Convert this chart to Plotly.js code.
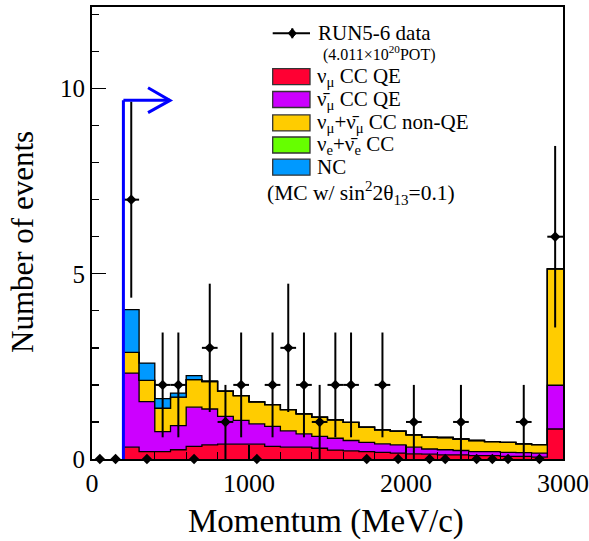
<!DOCTYPE html>
<html>
<head>
<meta charset="utf-8">
<script src="https://cdn.plot.ly/plotly-3.0.1.min.js"></script>
<style>
  html, body { margin: 0; padding: 0; background: #ffffff; }
  #plot { width: 589px; height: 541px; }
</style>
</head>
<body>
<div id="plot"></div>
<script>
// ---- Observed events (100 MeV/c bins, centres) ----
const dataMomentum = [50, 150, 250, 350, 450, 550, 650, 750, 850, 950,
                      1050, 1150, 1250, 1350, 1450, 1550, 1650, 1750, 1850, 1950,
                      2050, 2150, 2250, 2350, 2450, 2550, 2650, 2750, 2850, 2950];
const dataCounts = [0, 0, 7, 0, 2, 2, 0, 3, 1, 2,
                    0, 2, 3, 2, 1, 2, 2, 0, 2, 0,
                    1, 0, 0, 1, 0, 0, 0, 1, 0, 6];
const dataHalfWidth = 50;

// ---- MC expectation, low edges of 100 MeV/c bins above the 200 MeV/c cut ----
const mcLowEdges = [200, 300, 400, 500, 600, 700, 800, 900, 1000, 1100,
                    1200, 1300, 1400, 1500, 1600, 1700, 1800, 1900, 2000, 2100,
                    2200, 2300, 2400, 2500, 2600, 2700, 2800, 2900];
const mcUpperEdge = 3000;

const numuCCQE = [0.32, 0.20, 0.20, 0.25, 0.34, 0.38, 0.40, 0.40, 0.40, 0.34,
                  0.32, 0.32, 0.29, 0.24, 0.22, 0.20, 0.18, 0.16, 0.14, 0.13,
                  0.11, 0.11, 0.09, 0.09, 0.07, 0.07, 0.05, 0.81];
const numubarCCQE = [2.00, 1.35, 0.54, 0.65, 1.06, 0.97, 0.75, 0.64, 0.55, 0.54,
                     0.44, 0.36, 0.32, 0.32, 0.28, 0.25, 0.23, 0.22, 0.18, 0.14,
                     0.14, 0.12, 0.11, 0.11, 0.11, 0.10, 0.11, 1.18];
const numuCCnonQE = [0.56, 0.57, 0.63, 0.77, 0.74, 0.74, 0.68, 0.67, 0.59, 0.59,
                     0.57, 0.54, 0.52, 0.50, 0.49, 0.41, 0.38, 0.37, 0.33, 0.32,
                     0.33, 0.31, 0.30, 0.27, 0.27, 0.24, 0.23, 3.14];
const nueCC = [0, 0, 0, 0, 0, 0, 0, 0, 0, 0,
               0, 0, 0, 0, 0, 0, 0, 0, 0, 0,
               0, 0, 0, 0, 0, 0, 0, 0];
const ncAll = [1.15, 0.47, 0.26, 0.11, 0.11, 0.02, 0, 0, 0, 0,
               0, 0, 0, 0, 0, 0, 0, 0, 0, 0,
               0, 0, 0, 0, 0, 0, 0, 0];

// "ν̄" is written with a combining macron
const componentNames = [
  'ν<sub>μ</sub> CC QE',
  'ν\u0304<sub>μ</sub> CC QE',
  'ν<sub>μ</sub>+ν\u0304<sub>μ</sub> CC non-QE',
  'ν<sub>e</sub>+ν\u0304<sub>e</sub> CC',
  'NC'
];
const componentValues = [numuCCQE, numubarCCQE, numuCCnonQE, nueCC, ncAll];
const componentColors = ['#ff0033', '#cc00ff', '#ffcc00', '#66ff00', '#0099ff'];

const dataLabel = 'RUN5-6 data';
const potLabel = '(4.011×10<sup>20</sup>POT)';
const mcNote = '(MC w/ sin<sup>2</sup>2θ<sub>13</sub>=0.1)';

// Selection cut marker
const cutMomentum = 200;
const cutArrowHeight = 9.68;
const cutArrowEnd = 497;

const FONT = 'Liberation Serif';

// ---- stacked step histograms ----
const stepX = mcLowEdges.concat([mcUpperEdge]);
const traces = componentValues.map((vals, i) => ({
  type: 'scatter',
  mode: 'lines',
  name: componentNames[i],
  x: stepX,
  y: vals.concat([vals[vals.length - 1]]),
  stackgroup: 'mc',
  line: { shape: 'hv', color: '#000000', width: 1.3 },
  fillcolor: componentColors[i],
  hoverinfo: 'skip'
}));

// ---- data points with Poisson errors ----
traces.push({
  type: 'scatter',
  mode: 'markers',
  name: dataLabel,
  x: dataMomentum,
  y: dataCounts,
  marker: { symbol: 'diamond', size: 8, color: '#000000' },
  error_y: { type: 'data', array: dataCounts.map(n => Math.sqrt(n)),
             color: '#000000', thickness: 2, width: 0 },
  error_x: { type: 'data', array: dataCounts.map(n => n > 0 ? dataHalfWidth : 0),
             color: '#000000', thickness: 2, width: 0 },
  cliponaxis: false
});

// ---- pixel helpers for the hand-built legend ----
const M = { l: 92, r: 26, t: 7, b: 82 };
const W = 589, H = 541;
const pw = W - M.l - M.r, ph = H - M.t - M.b;
const px = v => (v - M.l) / pw;
const py = v => (H - M.b - v) / ph;

const shapes = [];
const annotations = [];

// cut arrow
shapes.push({ type: 'line', xref: 'x', yref: 'y', x0: cutMomentum, x1: cutMomentum,
              y0: 0, y1: cutArrowHeight, line: { color: '#0000ff', width: 3 } });
shapes.push({ type: 'line', xref: 'x', yref: 'y', x0: cutMomentum, x1: cutArrowEnd,
              y0: cutArrowHeight, y1: cutArrowHeight, line: { color: '#0000ff', width: 3 } });
shapes.push({ type: 'path', xref: 'x', yref: 'y',
              path: `M ${cutArrowEnd - 140} ${cutArrowHeight + 0.34} L ${cutArrowEnd} ${cutArrowHeight} L ${cutArrowEnd - 140} ${cutArrowHeight - 0.33}`,
              line: { color: '#0000ff', width: 3 } });

// legend: data entry
const legX0 = 272.7, legX1 = 310, legTextX = 316;
const dataRowY = 33.3;
shapes.push({ type: 'line', xref: 'paper', yref: 'paper', x0: px(legX0), x1: px(legX1),
              y0: py(dataRowY), y1: py(dataRowY), line: { color: '#000', width: 2 } });
shapes.push({ type: 'line', xref: 'paper', yref: 'paper', x0: px(292.3), x1: px(292.3),
              y0: py(dataRowY - 5), y1: py(dataRowY + 5), line: { color: '#000', width: 2 } });
shapes.push({ type: 'path', xref: 'paper', yref: 'paper', fillcolor: '#000',
              line: { color: '#000', width: 1 },
              path: `M ${px(292.3 - 4)} ${py(dataRowY)} L ${px(292.3)} ${py(dataRowY - 4.5)} L ${px(292.3 + 4)} ${py(dataRowY)} L ${px(292.3)} ${py(dataRowY + 4.5)} Z` });
annotations.push({ xref: 'paper', yref: 'paper', x: px(legTextX), y: py(dataRowY),
                   xanchor: 'left', yanchor: 'middle', showarrow: false,
                   text: dataLabel, font: { family: FONT, size: 21, color: '#000' } });
annotations.push({ xref: 'paper', yref: 'paper', x: px(321), y: py(53),
                   xanchor: 'left', yanchor: 'middle', showarrow: false,
                   text: potLabel, font: { family: FONT, size: 16, color: '#000' } });

// legend: MC components
const rowCentres = [76.7, 99.5, 122.9, 145, 167.2];
componentNames.forEach((name, i) => {
  const yc = rowCentres[i];
  shapes.push({ type: 'rect', xref: 'paper', yref: 'paper',
                x0: px(legX0), x1: px(legX1), y0: py(yc + 8), y1: py(yc - 8),
                fillcolor: componentColors[i], line: { color: '#333', width: 1.3 } });
  annotations.push({ xref: 'paper', yref: 'paper', x: px(legTextX - 1), y: py(yc),
                     xanchor: 'left', yanchor: 'middle', showarrow: false,
                     text: name, font: { family: FONT, size: 21, color: '#000' } });
});
annotations.push({ xref: 'paper', yref: 'paper', x: px(265), y: py(193),
                   xanchor: 'left', yanchor: 'middle', showarrow: false,
                   text: mcNote, font: { family: FONT, size: 21.5, color: '#000' } });

// axis titles
annotations.push({ xref: 'paper', yref: 'paper', x: px(326), y: py(521),
                   xanchor: 'center', yanchor: 'middle', showarrow: false,
                   text: 'Momentum (MeV/c)', font: { family: FONT, size: 33, color: '#000' } });
annotations.push({ xref: 'paper', yref: 'paper', x: px(22), y: py(242),
                   xanchor: 'center', yanchor: 'middle', showarrow: false, textangle: -90,
                   text: 'Number of events', font: { family: FONT, size: 31, color: '#000' } });

const axisCommon = {
  showgrid: false, zeroline: false,
  showline: true, linecolor: '#000', linewidth: 2, mirror: true,
  ticks: 'inside', ticklen: 14, tickwidth: 1.3, tickcolor: '#000',
  fixedrange: true
};

const layout = {
  width: W, height: H,
  margin: M,
  paper_bgcolor: '#ffffff', plot_bgcolor: '#ffffff',
  showlegend: false,
  font: { family: FONT, color: '#000' },
  xaxis: Object.assign({}, axisCommon, {
    range: [0, 3000], tick0: 0, dtick: 1000,
    tickfont: { family: FONT, size: 26, color: '#000' },
    minor: { dtick: 200, ticks: 'inside', ticklen: 7, tickwidth: 1.3, tickcolor: '#000', showgrid: false }
  }),
  yaxis: Object.assign({}, axisCommon, {
    range: [0, 12.2], tick0: 0, dtick: 5,
    tickfont: { family: FONT, size: 25, color: '#000' },
    minor: { dtick: 1, ticks: 'inside', ticklen: 7, tickwidth: 1.3, tickcolor: '#000', showgrid: false }
  }),
  shapes: shapes,
  annotations: annotations
};

Plotly.newPlot('plot', traces, layout, { displayModeBar: false, staticPlot: true });
</script>
</body>
</html>
